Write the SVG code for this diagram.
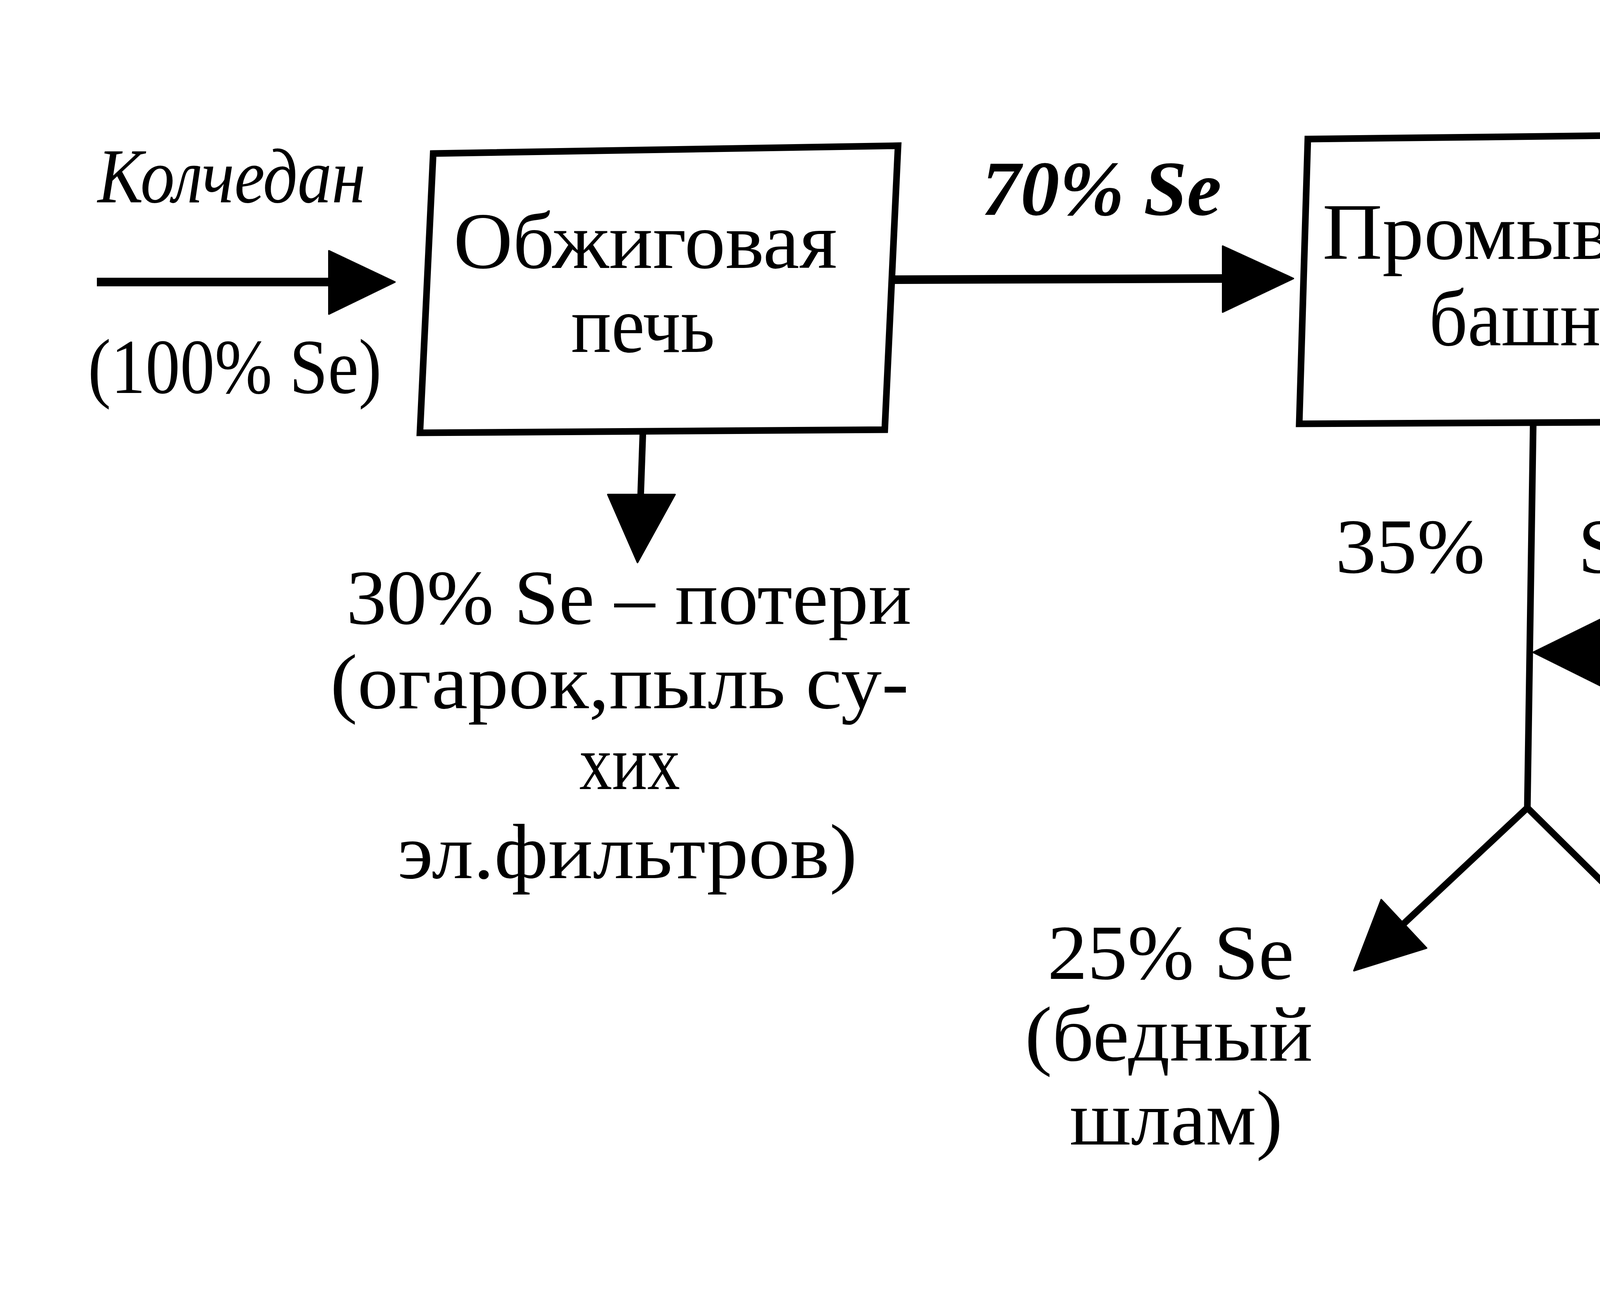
<svg xmlns="http://www.w3.org/2000/svg" width="7793" height="3305" viewBox="0 0 7793 3305">
<style>
.box{fill:#fff;stroke:#000;stroke-width:17;stroke-linejoin:miter}
.main{fill:none;stroke:#000;stroke-width:22;stroke-linecap:butt}
.thin{fill:none;stroke:#000;stroke-width:17;stroke-linecap:butt;stroke-linejoin:round}
.head{fill:#000;stroke:#000;stroke-width:4;stroke-linejoin:round}
text{font-family:"Liberation Serif","Times New Roman",serif;fill:#000;text-anchor:middle;font-size:200px}
.nt{font-size:205px}
.it{font-style:italic}
.bi{font-style:italic;font-weight:bold}
</style>
<rect width="7793" height="3305" fill="#fff"/>

<g id="connectors">
  <path class="main" d="M248,722 L846,722"/>
  <polygon class="head" points="842,642 1011,722 842,804"/>
  <path class="main" d="M2272,716 L3134,713"/>
  <polygon class="head" points="3130,630 3311,713 3130,799"/>
  <path class="main" d="M4540,698 L5410,698"/>
  <polygon class="head" points="5406,612 5578,698 5406,784"/>
  <path class="main" d="M6900,667 L7453,667"/>
  <polygon class="head" points="7449,581 7627,667 7449,753"/>
  <path class="thin" d="M1646,1100 L1640,1270"/>
  <polygon class="head" points="1556,1266 1632,1440 1728,1266"/>
  <path class="thin" d="M3925,1085 L3910,2068 L3590,2368"/>
  <path class="thin" d="M3910,2068 L4197,2352"/>
  <polygon class="head" points="3652,2427 3466,2485 3536,2303"/>
  <polygon class="head" points="4133,2408 4317,2471 4253,2288"/>
  <path class="thin" d="M6221,1048 L6210,1486"/>
  <polygon class="head" points="6116,1482 6206,1640 6298,1482"/>
  <path class="thin" d="M6206,1636 L6196,1828"/>
  <polygon class="head" points="6101,1824 6194,1992 6282,1824"/>
  <path class="thin" d="M6206,1658 L4098,1669"/>
  <polygon class="head" points="4102,1583 3925,1670 4102,1758"/>
</g>

<g id="labels">
  <text class="it" x="593" y="518" font-size="195" textLength="686" lengthAdjust="spacingAndGlyphs">Колчедан</text>
  <text x="601" y="1006" font-size="210" textLength="752" lengthAdjust="spacingAndGlyphs">(100% Se)</text>
  <text class="bi" x="2820" y="550" font-size="210" textLength="614" lengthAdjust="spacingAndGlyphs">70% Se</text>
  <text class="bi" x="5090" y="503" font-size="210" textLength="631" lengthAdjust="spacingAndGlyphs">35% Se</text>
  <text x="7213" y="553" font-size="215" textLength="586" lengthAdjust="spacingAndGlyphs">Следы</text>
  <text x="7271" y="871" font-size="215" textLength="172" lengthAdjust="spacingAndGlyphs">Se</text>
  <text x="3610" y="1466" textLength="383" lengthAdjust="spacingAndGlyphs">35%</text>
  <text x="4136" y="1466" textLength="191" lengthAdjust="spacingAndGlyphs">Se</text>
  <text x="4944" y="1495" textLength="507" lengthAdjust="spacingAndGlyphs">1% Se</text>
  <text x="5900" y="1417" textLength="388" lengthAdjust="spacingAndGlyphs">35%</text>
  <text x="6432" y="1417" textLength="189" lengthAdjust="spacingAndGlyphs">Se</text>
</g>

<g id="box1">
  <polygon class="box" points="1109,393 2299,373 2265,1100 1075,1108"/>
  <text class="nt" x="1652" y="686" textLength="982" lengthAdjust="spacingAndGlyphs">Обжиговая</text>
  <text class="nt" x="1646" y="901" textLength="368" lengthAdjust="spacingAndGlyphs">печь</text>
</g>

<g id="box2">
  <polygon class="box" points="3348,356 4569,342 4530,1079 3326,1085"/>
  <text class="nt" x="3930" y="663" textLength="1089" lengthAdjust="spacingAndGlyphs">Промывные</text>
  <text class="nt" x="3930" y="884" textLength="544" lengthAdjust="spacingAndGlyphs">башни</text>
</g>

<g id="box3">
  <polygon class="box" points="5621,310 6926,296 6894,1042 5590,1048"/>
  <text class="nt" x="6208" y="629" textLength="774" lengthAdjust="spacingAndGlyphs">Мокрые</text>
  <text class="nt" x="6210" y="850" textLength="1140" lengthAdjust="spacingAndGlyphs">эл.  фильтры</text>
</g>

<g id="loss1">
  <text x="1610" y="1597" textLength="1447" lengthAdjust="spacingAndGlyphs">30% Se – потери</text>
  <text x="1586" y="1813" textLength="1481" lengthAdjust="spacingAndGlyphs">(огарок,пыль су-</text>
  <text x="1612" y="2020" textLength="258" lengthAdjust="spacingAndGlyphs">хих</text>
  <text x="1606" y="2248" textLength="1177" lengthAdjust="spacingAndGlyphs">эл.фильтров)</text>
</g>

<g id="poor-sludge">
  <text x="2997" y="2506" textLength="631" lengthAdjust="spacingAndGlyphs">25% Se</text>
  <text x="2992" y="2715" textLength="737" lengthAdjust="spacingAndGlyphs">(бедный</text>
  <text x="3011" y="2930" textLength="545" lengthAdjust="spacingAndGlyphs">шлам)</text>
</g>

<g id="acid-loss">
  <text x="4768" y="2474" textLength="582" lengthAdjust="spacingAndGlyphs">11% Se</text>
  <text x="4754" y="2687" textLength="826" lengthAdjust="spacingAndGlyphs">(потери с</text>
  <text x="4754" y="2904" textLength="1000" lengthAdjust="spacingAndGlyphs">промывной</text>
  <text x="4754" y="3116" textLength="871" lengthAdjust="spacingAndGlyphs">кислотой)</text>
</g>

<g id="rich-sludge">
  <text x="6200" y="2154" textLength="643" lengthAdjust="spacingAndGlyphs">34% Se</text>
  <text x="6196" y="2377" textLength="806" lengthAdjust="spacingAndGlyphs">(богатый</text>
  <text x="6205" y="2577" textLength="551" lengthAdjust="spacingAndGlyphs">шлам)</text>
</g>
</svg>
